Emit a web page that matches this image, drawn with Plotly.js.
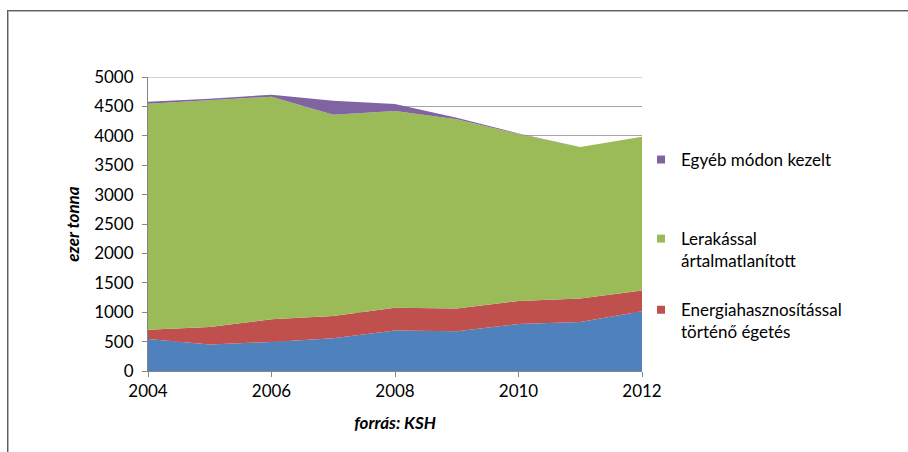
<!DOCTYPE html>
<html>
<head>
<meta charset="utf-8">
<script src="https://cdn.plot.ly/plotly-3.0.1.min.js"></script>
<style>
html,body{margin:0;padding:0;width:908px;height:452px;overflow:hidden;background:#fff;}
#frame{position:absolute;left:7px;top:10px;width:1000px;height:1000px;border-left:1px solid #5f5f5f;border-top:1px solid #5f5f5f;box-shadow:inset 1px 1px 0 #b5b5b5;}
#chart{position:absolute;left:0;top:0;width:908px;height:452px;}
</style>
</head>
<body>
<div id="frame"></div>
<div id="chart"></div>
<script>
const years = [2004, 2005, 2006, 2007, 2008, 2009, 2010, 2011, 2012];
const egyebValues = [35, 30, 35, 235, 120, 25, 10, 0, 0];
const lerakasValues = [3845, 3850, 3785, 3425, 3345, 3215, 2840, 2575, 2615];
const energiaValues = [155, 300, 385, 380, 385, 390, 390, 400, 355];
const egyebHasznValues = [545, 450, 495, 555, 690, 675, 800, 835, 1015];
const xTickVals = [2004, 2006, 2008, 2010, 2012];
const yTickVals = [0, 500, 1000, 1500, 2000, 2500, 3000, 3500, 4000, 4500, 5000];
const seriesNames = ['Egyéb módon kezelt', 'Lerakással<br>ártalmatlanított', 'Energiahasznosítással<br>történő égetés'];

const cBlue = '#4F81BD', cRed = '#C0504D', cGreen = '#9BBB59', cPurple = '#8064A2';
const font = 'Lato, "Open Sans", sans-serif';
const fs = 17;

function area(y, color, name) {
  return {x: years, y: y, type: 'scatter', mode: 'lines', stackgroup: 'one',
    line: {width: 0, color: color}, fillcolor: color, name: name, showlegend: false, hoverinfo: 'x+y'};
}
function legendItem(name, color, leg) {
  return {x: [null], y: [null], type: 'scatter', mode: 'markers', name: name, legend: leg,
    marker: {symbol: 'square', size: 8, color: color}, showlegend: true};
}

const data = [
  area(egyebHasznValues, cBlue, 'Egyéb'),
  area(energiaValues, cRed, seriesNames[2]),
  area(lerakasValues, cGreen, seriesNames[1]),
  area(egyebValues, cPurple, seriesNames[0]),
  legendItem(seriesNames[0], cPurple, 'legend'),
  legendItem(seriesNames[1], cGreen, 'legend2'),
  legendItem(seriesNames[2], cRed, 'legend3')
];

const legBase = {xanchor: 'left', yanchor: 'top', bgcolor: 'rgba(0,0,0,0)', borderwidth: 0,
  font: {family: font, size: fs, color: '#000'}, valign: 'top', itemclick: false};

const layout = {
  width: 908, height: 452,
  margin: {l: 148, r: 266, t: 77, b: 81},
  paper_bgcolor: 'rgba(0,0,0,0)', plot_bgcolor: 'rgba(0,0,0,0)',
  font: {family: font, size: fs, color: '#000'},
  xaxis: {
    range: [2004, 2012], tickvals: xTickVals, ticktext: xTickVals.map(String),
    ticks: 'outside', ticklen: 5, tickcolor: '#868686', tickwidth: 1,
    showline: true, linecolor: '#868686', linewidth: 1, showgrid: false, zeroline: false,
    title: {text: 'forrás: KSH', font: {family: font, size: fs, weight: 'bold', style: 'italic', color: '#000'}, standoff: 16}
  },
  yaxis: {
    range: [0, 5000], tickvals: yTickVals, ticks: 'outside', ticklen: 5, tickcolor: '#868686',
    showline: true, linecolor: '#868686', linewidth: 1, showgrid: true, gridcolor: '#a6a6a6', gridwidth: 1,
    zeroline: false, ticklabelstandoff: 5,
    title: {text: 'ezer tonna', font: {family: font, size: fs, weight: 'bold', style: 'italic', color: '#000'}, standoff: 10}
  },
  shapes: [{type: 'line', xref: 'paper', yref: 'y', x0: 0, x1: 1, y0: 5000, y1: 5000,
    line: {color: '#a6a6a6', width: 1}, layer: 'below'}],
  legend: Object.assign({x: 0.998, y: 0.779}, legBase),
  legend2: Object.assign({x: 0.998, y: 0.510}, legBase),
  legend3: Object.assign({x: 0.998, y: 0.268}, legBase),
  showlegend: true
};

Plotly.newPlot('chart', data, layout, {displayModeBar: false, staticPlot: true});
</script>
</body>
</html>
